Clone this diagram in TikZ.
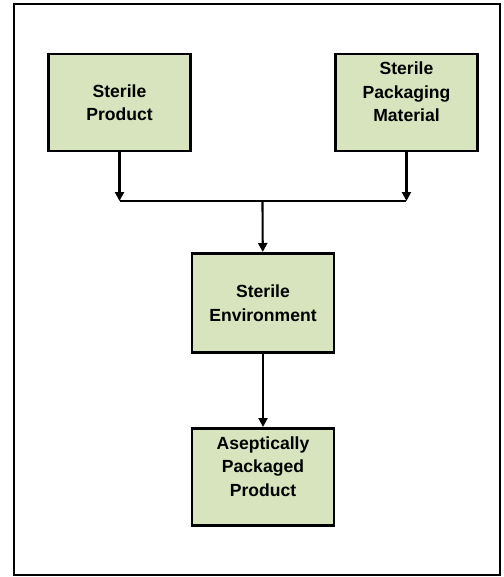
\documentclass[tikz,border=0pt]{standalone}
\usepackage{fontspec}
\setmainfont{Liberation Sans}
\usepackage{xcolor}
\usetikzlibrary{arrows.meta,positioning}
\definecolor{boxgreen}{HTML}{D7E4BD}

\begin{document}
\begin{tikzpicture}[
  node distance=1.46cm and 2.84cm,
  stage/.style={draw, fill=boxgreen, line width=1.7pt, minimum width=2.84cm,
                minimum height=1.94cm, align=center,
                font=\fontsize{10}{13.4}\selectfont\bfseries},
  tall/.style={text depth=0.42cm},
  arr/.style={-{Triangle[length=1.8mm,width=1.8mm]}, line width=1.2pt},
  link/.style={line width=1.2pt},
]
\useasboundingbox (0,0) rectangle (10.06,-11.54);
\draw[line width=1.1pt] (0.28,-0.08) rectangle (10.0,-11.5);

% inputs
\node[stage] (prod) at (2.39,-2.05) {Sterile\\Product};
\node[stage, tall, right=of prod] (pack) {Sterile\\Packaging\\Material};

% joining line
\coordinate (jl) at (2.39,-4.02);
\coordinate (jr) at (pack.south |- jl);
\coordinate (jm) at (5.25,-4.02);
\draw[arr] (prod) -- (jl);
\draw[arr] (pack) -- (jr);
\draw[link] (jl) -- (jr);

% process and output
\node[stage, minimum height=1.98cm] (env) at (5.26,-6.06) {Sterile\\Environment};
\node[stage, tall, below=of env] (asep) {Aseptically\\Packaged\\Product};
\draw[arr] (jm) -- (env);
\draw[arr] (env) -- (asep);
\end{tikzpicture}
\end{document}
